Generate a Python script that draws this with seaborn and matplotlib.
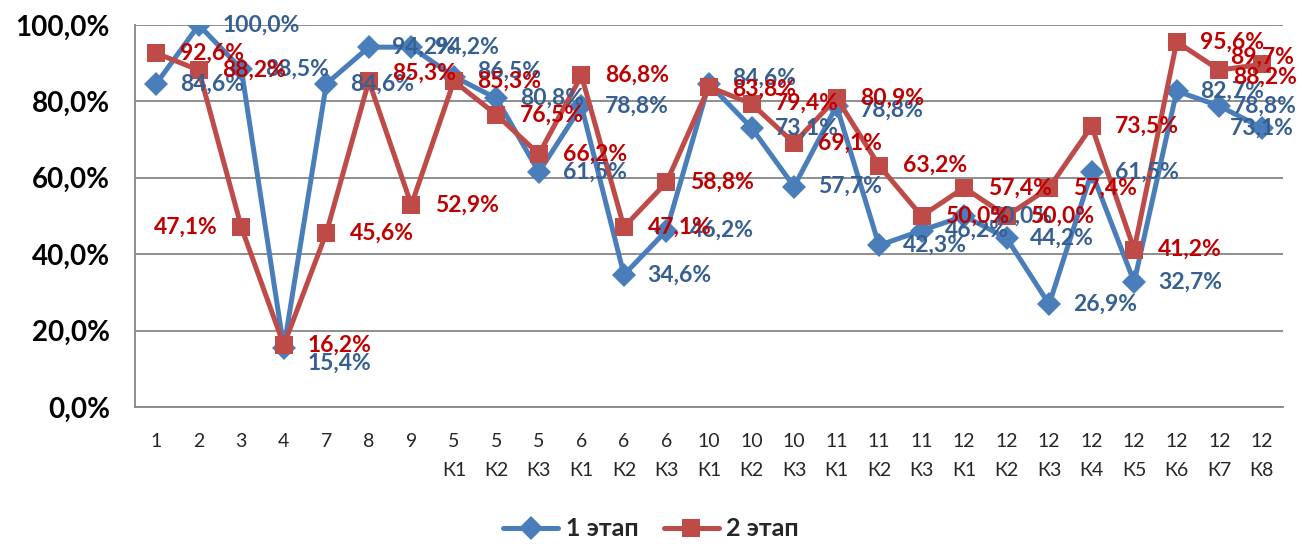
import matplotlib
matplotlib.use("Agg")
import matplotlib.pyplot as plt
import seaborn as sns
import numpy as np
import pandas as pd
from matplotlib.lines import Line2D

categories = ["1", "2", "3", "4", "7", "8", "9",
              "5\nК1", "5\nК2", "5\nК3", "6\nК1", "6\nК2", "6\nК3",
              "10\nК1", "10\nК2", "10\nК3", "11\nК1", "11\nК2", "11\nК3",
              "12\nК1", "12\nК2", "12\nК3", "12\nК4", "12\nК5", "12\nК6", "12\nК7", "12\nК8"]
stage1 = [84.6, 100.0, 88.5, 15.4, 84.6, 94.2, 94.2, 86.5, 80.8, 61.5, 78.8, 34.6, 46.2,
          84.6, 73.1, 57.7, 78.8, 42.3, 46.2, 50.0, 44.2, 26.9, 61.5, 32.7, 82.7, 78.8, 73.1]
stage2 = [92.6, 88.2, 47.1, 16.2, 45.6, 85.3, 52.9, 85.3, 76.5, 66.2, 86.8, 47.1, 58.8,
          83.8, 79.4, 69.1, 80.9, 63.2, 50.0, 57.4, 50.0, 57.4, 73.5, 41.2, 95.6, 88.2, 89.7]
series_names = ["1 этап", "2 этап"]
yticks = [0, 20, 40, 60, 80, 100]

sns.set_style("white")
plt.rcParams['font.family'] = ['Lato', 'DejaVu Sans']

blue_line = "#4A7EBB"
red_line = "#BE4B48"
blue_text = "#376092"
red_text = "#C00000"
grid_c = "#868686"

fig = plt.figure(figsize=(13.02, 5.44), dpi=100)
ax = fig.add_axes([135/1302, 1-407/544, (1283-135)/1302, (407-25)/544])

x = np.arange(len(categories))
df = pd.DataFrame({"x": np.concatenate([x, x]),
                   "v": stage1 + stage2,
                   "s": [series_names[0]]*len(x) + [series_names[1]]*len(x)})

sns.lineplot(data=df[df.s == series_names[0]], x="x", y="v", ax=ax, color=blue_line,
             linewidth=3.6, marker="D", markersize=12, markeredgewidth=0, sort=False, zorder=3)
sns.lineplot(data=df[df.s == series_names[1]], x="x", y="v", ax=ax, color=red_line,
             linewidth=3.6, marker="s", markersize=13.5, markeredgewidth=0, sort=False, zorder=4)

ax.set_xlim(-0.5, len(categories) - 0.5)
ax.set_ylim(0, 100)
ax.set_yticks(yticks)
ax.set_yticklabels([f"{t:.1f}%".replace(".", ",") for t in yticks],
                   fontsize=20, fontweight="bold", color="black")
ax.set_xticks(x)
ax.set_xticklabels(categories, fontsize=14, linespacing=1.8)
ax.set_xlabel("")
ax.set_ylabel("")
ax.set_xticks(np.arange(-0.5, len(categories)), minor=True)
ax.tick_params(axis="x", which="major", length=0, pad=19)
ax.tick_params(axis="x", which="minor", length=7, color=grid_c, width=1.2, direction="out")
ax.tick_params(axis="y", length=6, color=grid_c, width=1.2, direction="out", pad=12)
ax.yaxis.grid(True, color=grid_c, linewidth=1.3)
ax.set_axisbelow(True)
for s in ["top", "right"]:
    ax.spines[s].set_visible(False)
for s in ["left", "bottom"]:
    ax.spines[s].set_color(grid_c)
    ax.spines[s].set_linewidth(1.3)

def fmt(v):
    return f"{v:.1f}%".replace(".", ",")

# label offsets in points (dx, dy); default to the right of the point
off1 = {3: (17, -11), 7: (17, 4), 13: (17, 4), 16: (17, -3), 25: (10, 0), 26: (-23, 0)}
off2 = {2: (-17, 0), 5: (17, 6), 13: (17, -2), 25: (10, -5), 26: (-23, 5)}

for i, v in enumerate(stage1):
    dx, dy = off1.get(i, (17, 0))
    ax.annotate(fmt(v), (i, v), xytext=(dx, dy), textcoords="offset points",
                ha="left", va="center", fontsize=16.5,
                fontweight="bold", color=blue_text, zorder=5)
for i, v in enumerate(stage2):
    dx, dy = off2.get(i, (17, 0))
    ha = "right" if i == 2 else "left"
    ax.annotate(fmt(v), (i, v), xytext=(dx, dy), textcoords="offset points",
                ha=ha, va="center", fontsize=16.5, fontweight="bold", color=red_text, zorder=6)

handles = [Line2D([], [], color=blue_line, linewidth=3.6, marker="D", markersize=12, markeredgewidth=0),
           Line2D([], [], color=red_line, linewidth=3.6, marker="s", markersize=13.5, markeredgewidth=0)]
fig.legend(handles, series_names, loc="center", bbox_to_anchor=(0.5, 1-529/544), ncol=2,
           frameon=False, prop={"size": 18, "weight": "bold"}, handlelength=2.2,
           columnspacing=1.0, handletextpad=0.3)

fig.savefig("out.png", dpi=100)
